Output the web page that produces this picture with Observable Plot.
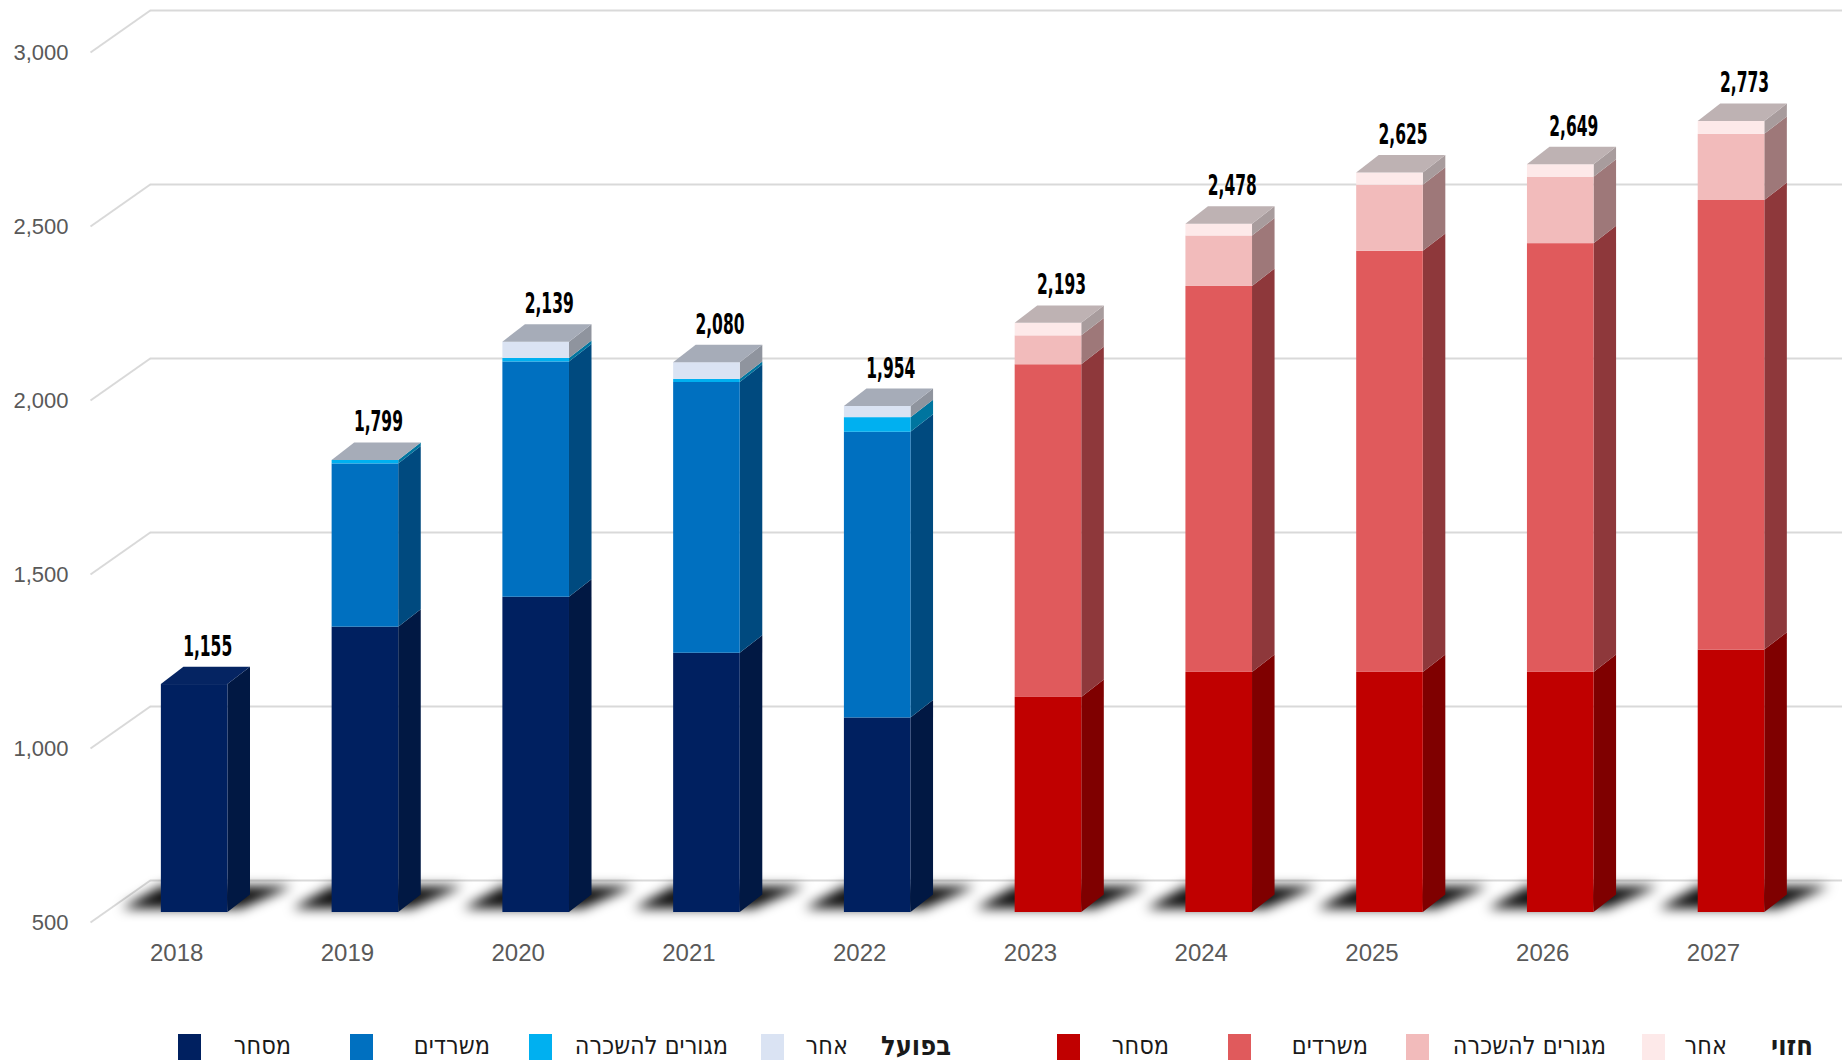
<!DOCTYPE html>
<html>
<head>
<meta charset="utf-8">
<script src="https://cdn.jsdelivr.net/npm/d3@7"></script>
<script src="https://cdn.jsdelivr.net/npm/@observablehq/plot@0.6"></script>
<style>
  html, body { margin: 0; padding: 0; background: #fff; }
  #chart { width: 1842px; height: 1000px; }
  #legend { position: relative; width: 1842px; height: 64px; font-family: "Liberation Sans Narrow", "DejaVu Sans Condensed", sans-serif; color: #1a1a1a; }
  #legend .sq { position: absolute; top: 34px; width: 23px; height: 26px; }
  #legend .tx { position: absolute; top: 30px; font-size: 25px; line-height: 32px; direction: rtl; white-space: nowrap; }
  #legend .grp { font-weight: bold; font-size: 27px; }
</style>
</head>
<body>
<div id="chart"></div>
<div id="legend"></div>
<script>
// ---------- data ----------
const years    = [2018, 2019, 2020, 2021, 2022, 2023, 2024, 2025, 2026, 2027];
const commerce = [1155, 1320, 1406, 1245, 1059, 1118, 1190, 1190, 1190, 1254];
const offices  = [null,  469,  676,  778,  821,  956, 1109, 1210, 1232, 1292];
const rental   = [null,   10,   10,    9,   42,   83,  145,  190,  191,  190];
const other    = [null,    0,   47,   48,   32,   36,   34,   35,   36,   37];
const totals   = [1155, 1799, 2139, 2080, 1954, 2193, 2478, 2625, 2649, 2773];
const yTicks   = [500, 1000, 1500, 2000, 2500, 3000];
const tickLabels = ["500", "1,000", "1,500", "2,000", "2,500", "3,000"];
const seriesNames = ["מסחר", "משרדים", "מגורים להשכרה", "אחר"];
const groupNames  = ["בפועל", "חזוי"];
const firstForecastYear = 2023;

// ---------- styles ----------
const frontColors = {
  actual:   ["#002060", "#0070C0", "#00B0F0", "#DAE3F3"],
  forecast: ["#C00000", "#E05A5C", "#F2BBBB", "#FDE9E9"]
};
const sideColors = {
  actual:   ["#011843", "#004A7F", "#00759F", "#8F949E"],
  forecast: ["#7F0000", "#8E383B", "#9E7879", "#A89C9D"]
};
const topColors = {
  actual:   ["#052462", "#1F5F96", "#4F95B3", "#A6ACB8"],
  forecast: ["#8A1010", "#B06062", "#C29A9B", "#BEB2B3"]
};

const HALF = 0.195;   // half bar width (years)
const DX = 0.132;     // depth, x (years)
const DY = 50;        // depth, y (value units)
const BASE = 500;
const wallFront = 2017.39, wallBack = 2017.74, xEnd = 2027.65;

// ---------- build stacked segments ----------
const seriesValues = [commerce, offices, rental, other];
const segments = [];
const tops = [];
years.forEach((yr, i) => {
  const grp = yr >= firstForecastYear ? "forecast" : "actual";
  let cum = 0, lastS = 0;
  seriesValues.forEach((arr, s) => {
    const v = arr[i];
    if (v == null) return;
    const lo = Math.max(cum, BASE), hi = Math.max(cum + v, BASE);
    segments.push({year: yr, s, lo, hi, front: frontColors[grp][s], side: sideColors[grp][s], key: yr + "-" + s});
    cum += v; lastS = s;
  });
  tops.push({year: yr, top: cum, color: topColors[grp][lastS], total: totals[i]});
});

const sidePts = segments.flatMap(d => [
  {x: d.year + HALF, y1: d.lo, y2: d.hi, key: d.key, fill: d.side},
  {x: d.year + HALF + DX, y1: d.lo + DY, y2: d.hi + DY, key: d.key, fill: d.side}
]);
const topPts = tops.flatMap(d => [
  {y: d.top, x1: d.year - HALF, x2: d.year + HALF, key: d.year, fill: d.color},
  {y: d.top + DY, x1: d.year - HALF + DX, x2: d.year + HALF + DX, key: d.year, fill: d.color}
]);
const shadowPts = years.flatMap(yr => [
  {y: BASE + 10, x1: yr - HALF - 0.23, x2: yr + HALF + 0.08, key: yr},
  {y: BASE + 74, x1: yr - HALF + 0.0, x2: yr + HALF + 0.38, key: yr}
]);

const pxPerUnit = 0.348;
const frontOff = -10 / pxPerUnit;   // front wall line below bar plane
const backOff = 32 / pxPerUnit;     // back wall above bar plane

const chart = Plot.plot({
  width: 1842,
  height: 1000,
  marginLeft: 90,
  marginRight: 0,
  marginTop: 42,
  marginBottom: 88,
  x: {domain: [wallFront, xEnd], axis: null},
  y: {domain: [BASE, 3000], axis: null},
  color: {type: "identity"},
  style: {overflow: "visible", background: "white"},
  marks: [
    // back wall gridlines
    Plot.ruleY(yTicks, {y: d => d + backOff, x1: wallBack, x2: xEnd, stroke: "#d9d9d9", strokeWidth: 2}),
    // left wall diagonals
    Plot.link(yTicks, {x1: wallFront, y1: d => d + frontOff, x2: wallBack, y2: d => d + backOff, stroke: "#d9d9d9", strokeWidth: 2}),
    // y tick labels
    Plot.text(yTicks, {x: wallFront, y: d => d + frontOff, text: (d, i) => tickLabels[i], textAnchor: "end", dx: -22, fontSize: 22, fill: "#595959", fontFamily: "Liberation Sans, Arial, sans-serif"}),
    // floor shadows
    Plot.areaX(shadowPts, {y: "y", x1: "x1", x2: "x2", z: "key", fill: "#000", fillOpacity: 0.95, curve: "linear"}),
    // side faces
    Plot.areaY(sidePts, {x: "x", y1: "y1", y2: "y2", z: "key", fill: "fill", curve: "linear"}),
    // front faces
    Plot.rect(segments, {x1: d => d.year - HALF, x2: d => d.year + HALF, y1: "lo", y2: "hi", fill: "front"}),
    // top faces
    Plot.areaX(topPts, {y: "y", x1: "x1", x2: "x2", z: "key", fill: "fill", curve: "linear"}),
    // totals
    Plot.text(tops, {x: "year", y: "top", text: d => d3.format(",")(d.total), dx: 13, dy: -29, lineAnchor: "bottom", fontSize: 29, fontWeight: "bold", fill: "#000", fontFamily: "Liberation Sans Narrow, DejaVu Sans Condensed, sans-serif"}),
    // x labels
    Plot.text(years, {x: d => d, y: BASE, text: d => String(d), dx: -18, dy: 41, fontSize: 24, fill: "#595959", fontFamily: "Liberation Sans, Arial, sans-serif"})
  ]
});

// post-styling: blur the floor shadows, condense total labels
const groups = Array.from(chart.children).filter(n => n.tagName.toLowerCase() === "g");
const shadowG = groups.find(g => g.getAttribute("aria-label") === "area" && g.getAttribute("fill-opacity") === "0.95");
if (shadowG) shadowG.style.filter = "blur(6px)";
const totalsG = groups.find(g => g.getAttribute("aria-label") === "text" && g.getAttribute("font-weight") === "bold");
if (totalsG) d3.select(totalsG).selectAll("text").attr("textLength", 49).attr("lengthAdjust", "spacingAndGlyphs");

document.getElementById("chart").appendChild(chart);

// ---------- legend ----------
const legendLayout = {
  actual:   {squares: [178, 350, 529, 761], texts: [291, 490, 728, 848], group: 951},
  forecast: {squares: [1057, 1228, 1406, 1642], texts: [1169, 1368, 1606, 1727], group: 1813}
};
const legend = document.getElementById("legend");
["actual", "forecast"].forEach((grp, g) => {
  const L = legendLayout[grp];
  seriesNames.forEach((name, s) => {
    const sq = document.createElement("div");
    sq.className = "sq";
    sq.style.left = L.squares[s] + "px";
    sq.style.background = frontColors[grp][s];
    legend.appendChild(sq);
    const tx = document.createElement("div");
    tx.className = "tx";
    tx.style.right = (1842 - L.texts[s]) + "px";
    tx.textContent = name;
    legend.appendChild(tx);
  });
  const gt = document.createElement("div");
  gt.className = "tx grp";
  gt.style.right = (1842 - L.group) + "px";
  gt.textContent = groupNames[g];
  legend.appendChild(gt);
});
</script>
</body>
</html>
